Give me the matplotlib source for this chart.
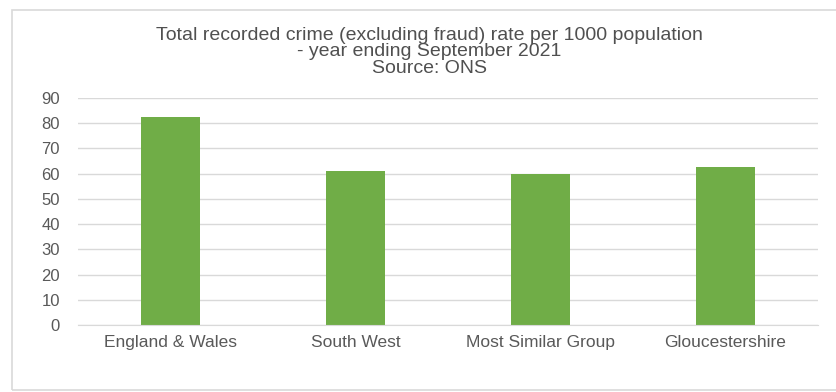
import matplotlib.pyplot as plt
from matplotlib.patches import Rectangle

areas = ['England & Wales', 'South West', 'Most Similar Group', 'Gloucestershire']
rates = [82.4, 61.2, 59.9, 62.8]
yticks = list(range(0, 100, 10))

plt.rcParams['font.family'] = ['Liberation Sans', 'DejaVu Sans']

fig = plt.figure(figsize=(8.37, 3.92), dpi=100)
# light frame round the whole chart
fig.patches.append(Rectangle((12 / 837, 2 / 392), 1.0, 380 / 392, transform=fig.transFigure,
                             fill=False, edgecolor='#d9d9d9', linewidth=1.2))

ax = fig.add_axes([78 / 837, 1 - 325 / 392, 740 / 837, 227 / 392])
ax.bar(range(len(areas)), rates, width=0.315, color='#70ad47', zorder=2)
ax.set_xlim(-0.5, len(areas) - 0.5)
ax.set_ylim(0, 90)
ax.set_yticks(yticks)
ax.set_xticks(range(len(areas)))
ax.set_xticklabels(areas, fontsize=12.5)
ax.grid(axis='y', color='#d9d9d9', linewidth=1, zorder=0)
for s in ['top', 'right', 'left']:
    ax.spines[s].set_visible(False)
ax.spines['bottom'].set_color('#d9d9d9')
ax.tick_params(length=0, labelsize=12, colors='#595959')
ax.tick_params(axis='x', labelsize=12.5, pad=7)
ax.tick_params(axis='y', pad=13)

fig.text(0.513, 1 - 52 / 392, 'Total recorded crime (excluding fraud) rate per 1000 population\n'
         '- year ending September 2021\nSource: ONS', ha='center', va='center',
         fontsize=14, color='#505050', linespacing=0.97)

fig.savefig('out.png', dpi=100)
